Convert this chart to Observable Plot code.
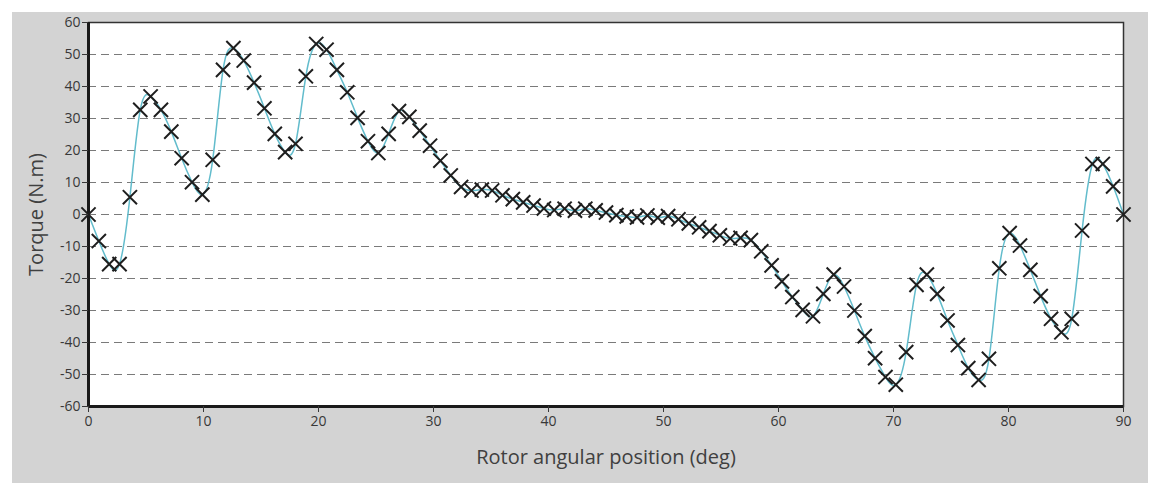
<!DOCTYPE html>
<html><head><meta charset="utf-8">
<script src="https://cdn.jsdelivr.net/npm/d3@7"></script>
<script src="https://cdn.jsdelivr.net/npm/@observablehq/plot@0.6"></script>
<style>
body{margin:0;background:#fff;width:1162px;height:494px;position:relative;overflow:hidden;font-family:"Open Sans",sans-serif}
#panel{position:absolute;left:12px;top:12px;width:1136px;height:471px;background:#d3d3d3}
#chart{position:absolute;left:0;top:0}
</style></head><body><div id="panel"></div><div id="chart"></div>
<script>
const angles = [0,0.9,1.8,2.7,3.6,4.5,5.4,6.3,7.2,8.1,9,9.9,10.8,11.7,12.6,13.5,14.4,15.3,16.2,17.1,18,18.9,19.8,20.7,21.6,22.5,23.4,24.3,25.2,26.1,27,27.9,28.8,29.7,30.6,31.5,32.4,33.3,34.2,35.1,36,36.9,37.8,38.7,39.6,40.5,41.4,42.3,43.2,44.1,45,45.9,46.8,47.7,48.6,49.5,50.4,51.3,52.2,53.1,54,54.9,55.8,56.7,57.6,58.5,59.4,60.3,61.2,62.1,63,63.9,64.8,65.7,66.6,67.5,68.4,69.3,70.2,71.1,72,72.9,73.8,74.7,75.6,76.5,77.4,78.3,79.2,80.1,81,81.9,82.8,83.7,84.6,85.5,86.4,87.3,88.2,89.1,90];
const torque = [0,-8.3,-15.5,-15.5,5.4,32.7,36.9,32.7,25.9,17.6,10.1,6.2,17.1,45.2,52,48.1,41.2,33.2,25.2,19.5,22.1,43.2,53.3,51.5,45.2,38.2,30.2,22.9,19.2,25.2,32.3,30.5,26.2,21.5,16.8,12.2,8.6,7.5,7.8,7.5,6.0,4.8,3.8,2.8,1.9,1.4,1.8,1.2,1.8,1.3,0.6,-0.2,-0.6,-0.9,-0.3,-1.0,-0.5,-1.5,-2.8,-4.0,-5.2,-6.5,-7.5,-7.3,-8.0,-11.5,-15.9,-20.9,-25.8,-29.8,-31.8,-24.8,-18.8,-22.5,-30,-38,-44.9,-50.8,-53.2,-43,-22,-18.8,-24.8,-33.1,-40.8,-48.0,-51.7,-45.1,-16.8,-5.8,-9.7,-17.3,-25.5,-32.6,-36.8,-32.6,-5,15.8,15.8,8.8,0];
const yTicks = [-60,-50,-40,-30,-20,-10,0,10,20,30,40,50,60];
const xTicks = [0,10,20,30,40,50,60,70,80,90];
const gridLevels = [-50,-40,-30,-20,-10,0,10,20,30,40,50];
const yLabel = "Torque (N.m)";
const xLabel = "Rotor angular position (deg)";

const data = angles.map((a, i) => ({angle: a, torque: torque[i]}));

const chart = Plot.plot({
  width: 1162, height: 494,
  marginLeft: 88, marginRight: 39, marginTop: 22, marginBottom: 88,
  style: {background: "transparent", fontFamily: "Open Sans", fontSize: "14px", color: "#383838"},
  x: {domain: [0, 90]},
  y: {domain: [-60, 60]},
  marks: [
    Plot.frame({fill: "white"}),
    Plot.ruleY(gridLevels, {stroke: "#7a7a7a", strokeDasharray: "8,5", strokeWidth: 1}),
    Plot.line(data, {x: "angle", y: "torque", curve: "natural", stroke: "#62bccc", strokeWidth: 1.5}),
    Plot.frame({stroke: "#333", strokeWidth: 1.5}),
    Plot.ruleX([0], {stroke: "#1a1a1a", strokeWidth: 3}),
    Plot.ruleY([-60], {stroke: "#1a1a1a", strokeWidth: 3}),
    Plot.dot(data, {x: "angle", y: "torque", symbol: "times", r: 6.5, stroke: "#1e1e1e", strokeWidth: 2}),
    Plot.axisY({ticks: yTicks, tickSize: 6, tickPadding: 2, label: null, fontSize: 14, tickFormat: d => String(d)}),
    Plot.axisX({ticks: xTicks, tickSize: 6, tickPadding: 4, label: null, fontSize: 14, tickFormat: d => String(d)}),
    Plot.text([yLabel], {frameAnchor: "left", dx: -52, rotate: -90, textAnchor: "middle", lineAnchor: "middle", fontSize: 20, fill: "#404040"}),
    Plot.text([xLabel], {frameAnchor: "bottom", dy: 51, textAnchor: "middle", lineAnchor: "middle", fontSize: 20, fill: "#404040"})
  ]
});
document.getElementById("chart").append(chart);
</script></body></html>
